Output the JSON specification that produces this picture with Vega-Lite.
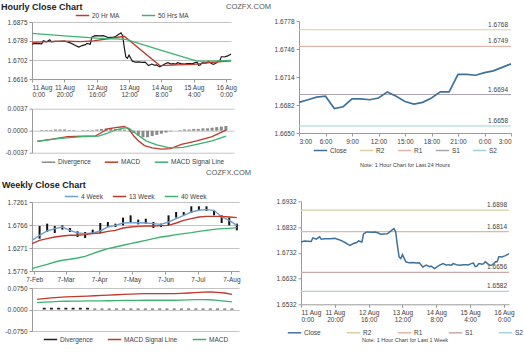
{
  "$schema": "https://vega.github.io/schema/vega-lite/v6.json",
  "autosize": {"type": "pad"},
  "padding": {"left": 1, "top": 2, "right": 0, "bottom": 0},
  "background": "white",
  "spacing": -35,
  "resolve": {"scale": {"color": "independent"}, "legend": {"color": "independent"}},
  "config": {
    "font": "Liberation Sans",
    "locale": {"number": {"decimal": ".", "thousands": ",", "grouping": [3], "currency": ["$", ""], "minus": "-"}},
    "view": {"stroke": null},
    "axis": {"labelFontSize": 6.5, "labelColor": "#404040", "domainColor": "#9a9a9a", "tickColor": "#9a9a9a", "tickSize": 3, "gridColor": "#c4c4c4", "grid": false, "labelPadding": 2, "labelOverlap": false},
    "legend": {"symbolType": "stroke", "symbolStrokeWidth": 1.5, "symbolSize": 180, "labelFontSize": 6.5, "labelColor": "#404040", "direction": "horizontal", "orient": "bottom", "padding": 0, "offset": 3, "columnPadding": 12, "labelOffset": 2, "rowPadding": 0, "layout": {"top": {"anchor": "middle"}, "bottom": {"anchor": "middle"}}},
    "title": {"font": "Liberation Sans", "color": "#222222", "frame": "group"}
  },
  "datasets": {
    "hourly": [
      {"h":0,"close":1.6774},{"h":2,"close":1.6778},{"h":4,"close":1.6777},{"h":6,"close":1.6776},{"h":7,"close":1.679},{"h":9,"close":1.6785},{"h":11,"close":1.6794},{"h":12,"close":1.6785},{"h":14,"close":1.6787},{"h":17,"close":1.6787},{"h":20,"close":1.6788},{"h":22,"close":1.6784},{"h":24,"close":1.6779},{"h":26,"close":1.6772},{"h":28,"close":1.6764},{"h":29,"close":1.6761},{"h":31,"close":1.6768},{"h":33,"close":1.6772},{"h":34,"close":1.6778},{"h":36,"close":1.6774},{"h":37,"close":1.6806},{"h":39,"close":1.6813},{"h":42,"close":1.6812},{"h":44,"close":1.6813},{"h":46,"close":1.6808},{"h":47,"close":1.6804},{"h":49,"close":1.6805},{"h":51,"close":1.6806},{"h":53,"close":1.6816},{"h":55,"close":1.6826},{"h":56,"close":1.6813},{"h":57,"close":1.6761},{"h":58,"close":1.6716},{"h":59,"close":1.671},{"h":60,"close":1.6725},{"h":62,"close":1.6697},{"h":64,"close":1.6693},{"h":66,"close":1.6694},{"h":68,"close":1.6692},{"h":70,"close":1.6693},{"h":72,"close":1.6677},{"h":74,"close":1.6684},{"h":76,"close":1.6678},{"h":77,"close":1.668},{"h":79,"close":1.6671},{"h":81,"close":1.668},{"h":82,"close":1.6684},{"h":84,"close":1.669},{"h":86,"close":1.6684},{"h":87,"close":1.6686},{"h":89,"close":1.6684},{"h":90,"close":1.669},{"h":92,"close":1.6686},{"h":94,"close":1.6684},{"h":96,"close":1.6686},{"h":98,"close":1.6686},
      {"h":99,"close":1.6685},{"h":100,"close":1.6688},{"h":101,"close":1.6691},{"h":102,"close":1.6692},{"h":103,"close":1.6678},{"h":104,"close":1.668},{"h":105,"close":1.6689},{"h":106,"close":1.6689},{"h":107,"close":1.6688},{"h":108,"close":1.669},{"h":109,"close":1.6697},{"h":110,"close":1.6692},{"h":111,"close":1.6686},{"h":112,"close":1.6683},{"h":113,"close":1.6685},{"h":114,"close":1.669},{"h":115,"close":1.6697},{"h":116,"close":1.6697},{"h":117,"close":1.6717},{"h":118,"close":1.6717},{"h":119,"close":1.6716},{"h":120,"close":1.6719},{"h":121,"close":1.6721},{"h":122,"close":1.6725},{"h":123,"close":1.6729}
    ],
    "ma": [
      {"h":0,"s":"20 Hr MA","v":1.6782},{"h":10,"s":"20 Hr MA","v":1.6786},{"h":20,"s":"20 Hr MA","v":1.6788},{"h":30,"s":"20 Hr MA","v":1.6786},{"h":38,"s":"20 Hr MA","v":1.6789},{"h":48,"s":"20 Hr MA","v":1.68},{"h":57,"s":"20 Hr MA","v":1.681},{"h":79,"s":"20 Hr MA","v":1.6677},{"h":90,"s":"20 Hr MA","v":1.668},{"h":100,"s":"20 Hr MA","v":1.6682},{"h":110,"s":"20 Hr MA","v":1.669},{"h":123,"s":"20 Hr MA","v":1.6699},
      {"h":0,"s":"50 Hrs MA","v":1.6823},{"h":20,"s":"50 Hrs MA","v":1.6812},{"h":40,"s":"50 Hrs MA","v":1.6802},{"h":58,"s":"50 Hrs MA","v":1.6796},{"h":80,"s":"50 Hrs MA","v":1.6746},{"h":102,"s":"50 Hrs MA","v":1.6697},{"h":112,"s":"50 Hrs MA","v":1.6697},{"h":123,"s":"50 Hrs MA","v":1.67}
    ],
    "hmacd": [
      {"h":0,"s":"MACD","v":-0.0018},{"h":10,"s":"MACD","v":-0.0014},{"h":20,"s":"MACD","v":-0.001},{"h":30,"s":"MACD","v":-0.0009},{"h":38,"s":"MACD","v":-0.0009},{"h":42,"s":"MACD","v":-0.0003},{"h":46,"s":"MACD","v":0.0003},{"h":51,"s":"MACD","v":0.0005},{"h":57,"s":"MACD","v":0.0007},{"h":60,"s":"MACD","v":0.0002},{"h":63,"s":"MACD","v":-0.0009},{"h":66,"s":"MACD","v":-0.0017},{"h":70,"s":"MACD","v":-0.0025},{"h":75,"s":"MACD","v":-0.0029},{"h":81,"s":"MACD","v":-0.0031},{"h":87,"s":"MACD","v":-0.003},{"h":94,"s":"MACD","v":-0.0023},{"h":104,"s":"MACD","v":-0.0017},{"h":114,"s":"MACD","v":-0.001},{"h":123,"s":"MACD","v":0.0001},
      {"h":0,"s":"MACD Signal Line","v":-0.0018},{"h":15,"s":"MACD Signal Line","v":-0.0013},{"h":30,"s":"MACD Signal Line","v":-0.001},{"h":40,"s":"MACD Signal Line","v":-0.0009},{"h":46,"s":"MACD Signal Line","v":-0.0004},{"h":52,"s":"MACD Signal Line","v":0.0002},{"h":58,"s":"MACD Signal Line","v":0.0005},{"h":60,"s":"MACD Signal Line","v":0.0004},{"h":65,"s":"MACD Signal Line","v":-0.0006},{"h":71,"s":"MACD Signal Line","v":-0.0017},{"h":78,"s":"MACD Signal Line","v":-0.0024},{"h":85,"s":"MACD Signal Line","v":-0.0028},{"h":90,"s":"MACD Signal Line","v":-0.0029},{"h":95,"s":"MACD Signal Line","v":-0.0028},{"h":104,"s":"MACD Signal Line","v":-0.0023},{"h":114,"s":"MACD Signal Line","v":-0.0017},{"h":123,"s":"MACD Signal Line","v":-0.0009}
    ],
    "hdiv": [
      {"h":0,"v":0},{"h":3,"v":0.0001},{"h":6,"v":0.0001},{"h":9,"v":0.0001},{"h":12,"v":0.0002},{"h":15,"v":0.0002},{"h":18,"v":0.0002},{"h":21,"v":0.0001},{"h":24,"v":0.0001},{"h":27,"v":0},{"h":30,"v":0.0001},{"h":33,"v":0.0001},{"h":36,"v":0.0001},{"h":39,"v":0.0002},{"h":42,"v":0.0003},{"h":45,"v":0.0004},{"h":48,"v":0.0004},{"h":51,"v":0.0003},{"h":54,"v":0.0003},{"h":57,"v":0.0002},{"h":60,"v":-0.0001},{"h":63,"v":-0.0004},{"h":66,"v":-0.0008},{"h":69,"v":-0.0011},{"h":72,"v":-0.0011},{"h":75,"v":-0.0009},{"h":78,"v":-0.0007},{"h":81,"v":-0.0005},{"h":84,"v":-0.0003},{"h":87,"v":-0.0001},{"h":90,"v":0},{"h":93,"v":0.0001},{"h":96,"v":0.0002},{"h":99,"v":0.0002},{"h":102,"v":0.0003},{"h":105,"v":0.0003},{"h":108,"v":0.0004},{"h":111,"v":0.0004},{"h":114,"v":0.0005},{"h":117,"v":0.0006},{"h":120,"v":0.0007},{"h":123,"v":0.0008}
    ],
    "wlines": [
      {"d":"2012-02-05","s":"4 Week","v":1.6436},{"d":"2012-02-12","s":"4 Week","v":1.6544},{"d":"2012-02-19","s":"4 Week","v":1.6637},{"d":"2012-02-26","s":"4 Week","v":1.6687},{"d":"2012-03-04","s":"4 Week","v":1.6723},{"d":"2012-03-11","s":"4 Week","v":1.6651},{"d":"2012-03-18","s":"4 Week","v":1.6594},{"d":"2012-03-25","s":"4 Week","v":1.658},{"d":"2012-04-01","s":"4 Week","v":1.6594},{"d":"2012-04-08","s":"4 Week","v":1.6637},{"d":"2012-04-15","s":"4 Week","v":1.6723},{"d":"2012-04-22","s":"4 Week","v":1.6759},{"d":"2012-04-29","s":"4 Week","v":1.6809},{"d":"2012-05-06","s":"4 Week","v":1.6816},{"d":"2012-05-13","s":"4 Week","v":1.6816},{"d":"2012-05-20","s":"4 Week","v":1.6809},{"d":"2012-05-27","s":"4 Week","v":1.6795},{"d":"2012-06-03","s":"4 Week","v":1.678},{"d":"2012-06-10","s":"4 Week","v":1.6831},{"d":"2012-06-17","s":"4 Week","v":1.6902},{"d":"2012-06-24","s":"4 Week","v":1.6974},{"d":"2012-07-01","s":"4 Week","v":1.7046},{"d":"2012-07-08","s":"4 Week","v":1.7082},{"d":"2012-07-15","s":"4 Week","v":1.7096},{"d":"2012-07-22","s":"4 Week","v":1.7082},{"d":"2012-07-29","s":"4 Week","v":1.6938},{"d":"2012-08-05","s":"4 Week","v":1.6866},{"d":"2012-08-12","s":"4 Week","v":1.6759},
      {"d":"2012-02-05","s":"13 Week","v":1.6365},{"d":"2012-02-12","s":"13 Week","v":1.6436},{"d":"2012-02-19","s":"13 Week","v":1.6472},{"d":"2012-02-26","s":"13 Week","v":1.6508},{"d":"2012-03-04","s":"13 Week","v":1.6529},{"d":"2012-03-11","s":"13 Week","v":1.6544},{"d":"2012-03-18","s":"13 Week","v":1.6544},{"d":"2012-03-25","s":"13 Week","v":1.6558},{"d":"2012-04-01","s":"13 Week","v":1.658},{"d":"2012-04-08","s":"13 Week","v":1.6594},{"d":"2012-04-15","s":"13 Week","v":1.663},{"d":"2012-04-22","s":"13 Week","v":1.6651},{"d":"2012-04-29","s":"13 Week","v":1.6702},{"d":"2012-05-06","s":"13 Week","v":1.6723},{"d":"2012-05-13","s":"13 Week","v":1.6737},{"d":"2012-05-20","s":"13 Week","v":1.6745},{"d":"2012-05-27","s":"13 Week","v":1.6745},{"d":"2012-06-03","s":"13 Week","v":1.6752},{"d":"2012-06-10","s":"13 Week","v":1.6759},{"d":"2012-06-17","s":"13 Week","v":1.6809},{"d":"2012-06-24","s":"13 Week","v":1.6866},{"d":"2012-07-01","s":"13 Week","v":1.6902},{"d":"2012-07-08","s":"13 Week","v":1.6938},{"d":"2012-07-15","s":"13 Week","v":1.6952},{"d":"2012-07-22","s":"13 Week","v":1.6952},{"d":"2012-07-29","s":"13 Week","v":1.6952},{"d":"2012-08-05","s":"13 Week","v":1.6938},{"d":"2012-08-12","s":"13 Week","v":1.6924},
      {"d":"2012-02-05","s":"40 Week","v":1.5827},{"d":"2012-02-12","s":"40 Week","v":1.5877},{"d":"2012-02-19","s":"40 Week","v":1.592},{"d":"2012-02-26","s":"40 Week","v":1.597},{"d":"2012-03-04","s":"40 Week","v":1.6006},{"d":"2012-03-11","s":"40 Week","v":1.6028},{"d":"2012-03-18","s":"40 Week","v":1.6056},{"d":"2012-03-25","s":"40 Week","v":1.6092},{"d":"2012-04-01","s":"40 Week","v":1.6149},{"d":"2012-04-08","s":"40 Week","v":1.6207},{"d":"2012-04-15","s":"40 Week","v":1.6257},{"d":"2012-04-22","s":"40 Week","v":1.6293},{"d":"2012-04-29","s":"40 Week","v":1.6329},{"d":"2012-05-06","s":"40 Week","v":1.6365},{"d":"2012-05-13","s":"40 Week","v":1.64},{"d":"2012-05-20","s":"40 Week","v":1.6436},{"d":"2012-05-27","s":"40 Week","v":1.6472},{"d":"2012-06-03","s":"40 Week","v":1.6508},{"d":"2012-06-10","s":"40 Week","v":1.6529},{"d":"2012-06-17","s":"40 Week","v":1.6558},{"d":"2012-06-24","s":"40 Week","v":1.658},{"d":"2012-07-01","s":"40 Week","v":1.6601},{"d":"2012-07-08","s":"40 Week","v":1.663},{"d":"2012-07-15","s":"40 Week","v":1.6651},{"d":"2012-07-22","s":"40 Week","v":1.6673},{"d":"2012-07-29","s":"40 Week","v":1.6687},{"d":"2012-08-05","s":"40 Week","v":1.6694},{"d":"2012-08-12","s":"40 Week","v":1.6709}
    ],
    "wbars": [
      {"d":"2012-02-12","hi":1.6745,"lo":1.6472},{"d":"2012-02-19","hi":1.6795,"lo":1.6616},{"d":"2012-02-26","hi":1.6745,"lo":1.6594},{"d":"2012-03-04","hi":1.6759,"lo":1.6666},{"d":"2012-03-11","hi":1.6702,"lo":1.6616},{"d":"2012-03-18","hi":1.663,"lo":1.6508},{"d":"2012-03-25","hi":1.6616,"lo":1.6486},{"d":"2012-04-01","hi":1.6666,"lo":1.658},{"d":"2012-04-08","hi":1.6809,"lo":1.6594},{"d":"2012-04-15","hi":1.6831,"lo":1.6723},{"d":"2012-04-22","hi":1.6795,"lo":1.6723},{"d":"2012-04-29","hi":1.6924,"lo":1.6759},{"d":"2012-05-06","hi":1.6974,"lo":1.6809},{"d":"2012-05-13","hi":1.6881,"lo":1.678},{"d":"2012-05-20","hi":1.6902,"lo":1.6795},{"d":"2012-05-27","hi":1.6831,"lo":1.6702},{"d":"2012-06-03","hi":1.6795,"lo":1.6723},{"d":"2012-06-10","hi":1.6974,"lo":1.6759},{"d":"2012-06-17","hi":1.7046,"lo":1.6924},{"d":"2012-06-24","hi":1.7046,"lo":1.6974},{"d":"2012-07-01","hi":1.7168,"lo":1.7024},{"d":"2012-07-08","hi":1.7168,"lo":1.7082},{"d":"2012-07-15","hi":1.7168,"lo":1.7067},{"d":"2012-07-22","hi":1.7082,"lo":1.6974},{"d":"2012-07-29","hi":1.6974,"lo":1.6809},{"d":"2012-08-05","hi":1.6924,"lo":1.6759},{"d":"2012-08-12","hi":1.6795,"lo":1.6651}
    ],
    "wmacd": [
      {"d":"2012-02-05","s":"MACD Signal Line","v":0.0356},{"d":"2012-02-12","s":"MACD Signal Line","v":0.038},{"d":"2012-02-19","s":"MACD Signal Line","v":0.0405},{"d":"2012-02-26","s":"MACD Signal Line","v":0.0425},{"d":"2012-03-04","s":"MACD Signal Line","v":0.044},{"d":"2012-03-11","s":"MACD Signal Line","v":0.045},{"d":"2012-03-18","s":"MACD Signal Line","v":0.046},{"d":"2012-03-25","s":"MACD Signal Line","v":0.047},{"d":"2012-04-01","s":"MACD Signal Line","v":0.048},{"d":"2012-04-08","s":"MACD Signal Line","v":0.049},{"d":"2012-04-15","s":"MACD Signal Line","v":0.05},{"d":"2012-04-22","s":"MACD Signal Line","v":0.0515},{"d":"2012-04-29","s":"MACD Signal Line","v":0.0525},{"d":"2012-05-06","s":"MACD Signal Line","v":0.0535},{"d":"2012-05-13","s":"MACD Signal Line","v":0.0545},{"d":"2012-05-20","s":"MACD Signal Line","v":0.0553},{"d":"2012-05-27","s":"MACD Signal Line","v":0.0553},{"d":"2012-06-03","s":"MACD Signal Line","v":0.0555},{"d":"2012-06-10","s":"MACD Signal Line","v":0.0555},{"d":"2012-06-17","s":"MACD Signal Line","v":0.0555},{"d":"2012-06-24","s":"MACD Signal Line","v":0.0565},{"d":"2012-07-01","s":"MACD Signal Line","v":0.0575},{"d":"2012-07-08","s":"MACD Signal Line","v":0.059},{"d":"2012-07-15","s":"MACD Signal Line","v":0.0605},{"d":"2012-07-22","s":"MACD Signal Line","v":0.0611},{"d":"2012-07-29","s":"MACD Signal Line","v":0.06},{"d":"2012-08-05","s":"MACD Signal Line","v":0.0575},{"d":"2012-08-12","s":"MACD Signal Line","v":0.053},
      {"d":"2012-02-05","s":"MACD","v":0.0242},{"d":"2012-02-12","s":"MACD","v":0.0255},{"d":"2012-02-19","s":"MACD","v":0.0268},{"d":"2012-02-26","s":"MACD","v":0.028},{"d":"2012-03-04","s":"MACD","v":0.0288},{"d":"2012-03-11","s":"MACD","v":0.0292},{"d":"2012-03-18","s":"MACD","v":0.0295},{"d":"2012-03-25","s":"MACD","v":0.0298},{"d":"2012-04-01","s":"MACD","v":0.03},{"d":"2012-04-08","s":"MACD","v":0.0302},{"d":"2012-04-15","s":"MACD","v":0.0305},{"d":"2012-04-22","s":"MACD","v":0.031},{"d":"2012-04-29","s":"MACD","v":0.0315},{"d":"2012-05-06","s":"MACD","v":0.0318},{"d":"2012-05-13","s":"MACD","v":0.032},{"d":"2012-05-20","s":"MACD","v":0.0323},{"d":"2012-05-27","s":"MACD","v":0.0323},{"d":"2012-06-03","s":"MACD","v":0.0323},{"d":"2012-06-10","s":"MACD","v":0.0323},{"d":"2012-06-17","s":"MACD","v":0.0323},{"d":"2012-06-24","s":"MACD","v":0.0328},{"d":"2012-07-01","s":"MACD","v":0.0335},{"d":"2012-07-08","s":"MACD","v":0.0342},{"d":"2012-07-15","s":"MACD","v":0.0346},{"d":"2012-07-22","s":"MACD","v":0.034},{"d":"2012-07-29","s":"MACD","v":0.0318},{"d":"2012-08-05","s":"MACD","v":0.029},{"d":"2012-08-12","s":"MACD","v":0.0265}
    ],
    "wdiv": [
      {"d":"2012-02-12","v":0.006},{"d":"2012-02-19","v":0.006},{"d":"2012-02-26","v":0.006},{"d":"2012-03-04","v":0.006},{"d":"2012-03-11","v":0.006},{"d":"2012-03-18","v":0.006},{"d":"2012-03-25","v":0.006},{"d":"2012-04-01","v":0.003},{"d":"2012-04-08","v":0.003},{"d":"2012-04-15","v":0.003},{"d":"2012-04-22","v":0.003},{"d":"2012-04-29","v":0.003},{"d":"2012-05-06","v":0.003},{"d":"2012-05-13","v":0.003},{"d":"2012-05-20","v":0.003},{"d":"2012-05-27","v":0.003},{"d":"2012-06-03","v":0.003},{"d":"2012-06-10","v":0.003},{"d":"2012-06-17","v":0.003},{"d":"2012-06-24","v":0.003},{"d":"2012-07-01","v":0.003},{"d":"2012-07-08","v":0.003},{"d":"2012-07-15","v":0.003},{"d":"2012-07-22","v":0.003},{"d":"2012-07-29","v":0.003},{"d":"2012-08-05","v":0.003},{"d":"2012-08-12","v":0.003}
    ],
    "lev24": [
      {"s":"R2","v":1.6768},{"s":"R1","v":1.6749},{"s":"S1","v":1.6694},{"s":"S2","v":1.6658}
    ],
    "lev1w": [
      {"s":"R2","v":1.6898},{"s":"R1","v":1.6814},{"s":"S1","v":1.6656},{"s":"S2","v":1.6582}
    ]
  },
  "hconcat": [
    {
      "spacing": -20,
      "resolve": {"scale": {"color": "independent"}, "legend": {"color": "independent"}},
      "vconcat": [
        {"width": 1, "height": 1, "data": {"values": []}, "mark": "point"},
        {
          "spacing": 14,
          "resolve": {"scale": {"color": "independent"}, "legend": {"color": "independent"}},
          "vconcat": [
            {
              "bounds": "flush",
              "spacing": 29.7,
              "resolve": {"scale": {"color": "independent"}, "legend": {"color": "independent"}},
              "vconcat": [
                {
                  "width": 199,
                  "height": 57,
                  "title": {"text": "Hourly Close Chart", "anchor": "start", "fontSize": 9, "fontWeight": "bold", "dx": -31, "offset": -4},
                  "layer": [
                    {
                      "data": {"name": "hourly"},
                      "mark": {"type": "line", "color": "#1a1a1a", "strokeWidth": 1.2},
                      "encoding": {
                        "x": {"field": "h", "type": "quantitative", "scale": {"domain": [0, 123], "nice": false, "zero": false},
                          "axis": {"title": null, "tickCount": 50, "labelOverlap": false, "labelLineHeight": 7.5, "values": [0, 20, 40, 60, 80, 100, 120], "labelExpr": "[['11 Aug','11 Aug','12 Aug','13 Aug','14 Aug','15 Aug','16 Aug'][datum.value/20], ['0:00','20:00','16:00','12:00','8:00','4:00','0:00'][datum.value/20]]"}},
                        "y": {"field": "close", "type": "quantitative", "scale": {"domain": [1.6616, 1.6875], "nice": false, "zero": false},
                          "axis": {"title": null, "grid": true, "tickCount": 50, "labelOverlap": false, "values": [1.6616, 1.67023, 1.67887, 1.6875], "format": ".4f"}}
                      }
                    },
                    {
                      "data": {"name": "ma"},
                      "mark": {"type": "line", "strokeWidth": 1.3},
                      "encoding": {
                        "x": {"field": "h", "type": "quantitative"},
                        "y": {"field": "v", "type": "quantitative"},
                        "color": {"field": "s", "type": "nominal", "title": null, "scale": {"domain": ["20 Hr MA", "50 Hrs MA"], "range": ["#c0392b", "#3cb371"]},
                          "legend": {"orient": "top", "title": null, "offset": 3, "columnPadding": 18}}
                      }
                    }
                  ]
                },
                {
                  "width": 202,
                  "height": 44,
                  "layer": [
                    {
                      "data": {"name": "hdiv"},
                      "mark": {"type": "bar", "width": 3},
                      "encoding": {
                        "x": {"field": "h", "type": "quantitative", "scale": {"domain": [0, 125], "nice": false, "zero": false}, "axis": null},
                        "y": {"field": "v", "type": "quantitative", "scale": {"domain": [-0.0037, 0.0037], "nice": false},
                          "axis": {"title": null, "grid": true, "tickCount": 50, "labelOverlap": false, "values": [-0.0037, 0, 0.0037], "format": ".4f"}},
                        "color": {"datum": "Divergence", "type": "nominal", "title": null, "scale": {"domain": ["Divergence", "MACD", "MACD Signal Line"], "range": ["#8a8a8a", "#c0392b", "#3cb371"]},
                          "legend": {"title": null, "orient": "bottom", "offset": 2, "columnPadding": 10}}
                      }
                    },
                    {
                      "data": {"name": "hmacd"},
                      "mark": {"type": "line", "strokeWidth": 1.3},
                      "encoding": {
                        "x": {"field": "h", "type": "quantitative"},
                        "y": {"field": "v", "type": "quantitative"},
                        "color": {"field": "s", "type": "nominal", "title": null}
                      }
                    }
                  ]
                }
              ]
            },
            {
              "bounds": "flush",
              "spacing": 17,
              "resolve": {"scale": {"color": "independent"}, "legend": {"color": "independent"}},
              "vconcat": [
                {
                  "width": 207,
                  "height": 69,
                  "title": {"text": "Weekly Close Chart", "anchor": "start", "fontSize": 9, "fontWeight": "bold", "dx": -30, "offset": -0.5},
                  "layer": [
                    {
                      "data": {"name": "wbars"},
                      "mark": {"type": "rule", "color": "#111111", "strokeWidth": 2},
                      "encoding": {
                        "x": {"field": "d", "type": "temporal", "scale": {"type": "utc", "domain": [{"year": 2012, "month": 2, "date": 5, "utc": true}, {"year": 2012, "month": 8, "date": 14, "utc": true}]},
                          "axis": {"title": null, "tickCount": 50, "labelOverlap": false, "format": "%-d-%b", "values": [{"year": 2012, "month": 2, "date": 7, "utc": true}, {"year": 2012, "month": 3, "date": 7, "utc": true}, {"year": 2012, "month": 4, "date": 7, "utc": true}, {"year": 2012, "month": 5, "date": 7, "utc": true}, {"year": 2012, "month": 6, "date": 7, "utc": true}, {"year": 2012, "month": 7, "date": 7, "utc": true}, {"year": 2012, "month": 8, "date": 7, "utc": true}]}},
                        "y": {"field": "hi", "type": "quantitative", "scale": {"domain": [1.5776, 1.7261], "nice": false, "zero": false},
                          "axis": {"title": null, "grid": true, "tickCount": 50, "labelOverlap": false, "values": [1.5776, 1.6271, 1.6766, 1.7261], "format": ".4f"}},
                        "y2": {"field": "lo"}
                      }
                    },
                    {
                      "data": {"name": "wlines"},
                      "mark": {"type": "line", "strokeWidth": 1.4},
                      "encoding": {
                        "x": {"field": "d", "type": "temporal"},
                        "y": {"field": "v", "type": "quantitative"},
                        "color": {"field": "s", "type": "nominal", "title": null, "scale": {"domain": ["4 Week", "13 Week", "40 Week"], "range": ["#6f9fd0", "#c0392b", "#3cb371"]},
                          "legend": {"orient": "top", "title": null, "offset": 2, "columnPadding": 6}}
                      }
                    }
                  ]
                },
                {
                  "width": 207,
                  "height": 43,
                  "layer": [
                    {
                      "data": {"name": "wdiv"},
                      "mark": {"type": "bar", "width": 3},
                      "encoding": {
                        "x": {"field": "d", "type": "temporal", "scale": {"type": "utc", "domain": [{"year": 2012, "month": 2, "date": 5, "utc": true}, {"year": 2012, "month": 8, "date": 14, "utc": true}]}, "axis": null},
                        "y": {"field": "v", "type": "quantitative", "scale": {"domain": [-0.075, 0.075], "nice": false},
                          "axis": {"title": null, "grid": true, "tickCount": 50, "labelOverlap": false, "values": [-0.075, 0, 0.075], "format": ".4f"}},
                        "color": {"datum": "Divergence", "type": "nominal", "title": null, "scale": {"domain": ["Divergence", "MACD Signal Line", "MACD"], "range": ["#222222", "#c0392b", "#3cb371"]},
                          "legend": {"title": null, "orient": "bottom", "offset": 0.5, "columnPadding": 11}}
                      }
                    },
                    {
                      "data": {"name": "wmacd"},
                      "mark": {"type": "line", "strokeWidth": 1.3},
                      "encoding": {
                        "x": {"field": "d", "type": "temporal"},
                        "y": {"field": "v", "type": "quantitative"},
                        "color": {"field": "s", "type": "nominal", "title": null}
                      }
                    }
                  ]
                }
              ]
            }
          ]
        }
      ]
    },
    {
      "bounds": "flush",
      "spacing": 68.3,
      "center": true,
      "resolve": {"scale": {"color": "independent"}, "legend": {"color": "independent"}},
      "vconcat": [
        {
          "width": 212,
          "height": 112,
          "title": {"text": "COZFX.COM", "anchor": "start", "fontSize": 7.5, "fontWeight": "normal", "color": "#555555", "dx": -73, "offset": 8},
          "layer": [
            {
              "data": {"name": "lev24"},
              "mark": {"type": "rule", "strokeWidth": 1.2},
              "encoding": {
                "y": {"field": "v", "type": "quantitative", "scale": {"domain": [1.665, 1.6778], "nice": false, "zero": false},
                  "axis": {"title": null, "tickCount": 50, "labelOverlap": false, "values": [1.665, 1.6682, 1.6714, 1.6746, 1.6778], "format": ".4f"}},
                "color": {"field": "s", "type": "nominal", "scale": {"domain": ["Close", "R2", "R1", "S1", "S2"], "range": ["#3f729b", "#d8d0a0", "#e3b5a8", "#aca4b0", "#9fd3d6"]},
                  "legend": {"title": "Note: 1 Hour Chart for Last 24 Hours", "titleOrient": "bottom", "titleAnchor": "middle", "titleFontSize": 5.5, "titleFontWeight": "normal", "titleColor": "#404040", "titlePadding": 9, "orient": "bottom", "offset": -2, "columnPadding": 9}}
              }
            },
            {
              "data": {"name": "lev24"},
              "mark": {"type": "text", "align": "right", "baseline": "bottom", "dx": -3, "dy": -2, "fontSize": 6.5, "color": "#404040"},
              "encoding": {
                "x": {"datum": 123, "type": "quantitative"},
                "y": {"field": "v", "type": "quantitative"},
                "text": {"field": "v", "type": "quantitative", "format": ".4f"}
              }
            },
            {
              "data": {"name": "hourly"},
              "transform": [{"filter": "datum.h >= 99"}],
              "mark": {"type": "line", "strokeWidth": 1.7},
              "encoding": {
                "x": {"field": "h", "type": "quantitative", "scale": {"domain": [99, 123], "nice": false, "zero": false},
                  "axis": {"title": null, "tickCount": 50, "labelOverlap": false, "values": [99, 102, 105, 108, 111, 114, 117, 120, 123], "labelExpr": "(datum.value % 24) + ':00'"}},
                "y": {"field": "close", "type": "quantitative"},
                "color": {"datum": "Close", "type": "nominal"}
              }
            }
          ]
        },
        {
          "width": 208,
          "height": 103,
          "title": {"text": "COZFX.COM", "anchor": "start", "fontSize": 7.5, "fontWeight": "normal", "color": "#555555", "dx": -95, "offset": 22},
          "layer": [
            {
              "data": {"name": "lev1w"},
              "mark": {"type": "rule", "strokeWidth": 1.2},
              "encoding": {
                "y": {"field": "v", "type": "quantitative", "scale": {"domain": [1.6532, 1.6932], "nice": false, "zero": false},
                  "axis": {"title": null, "tickCount": 50, "labelOverlap": false, "values": [1.6532, 1.6632, 1.6732, 1.6832, 1.6932], "format": ".4f"}},
                "color": {"field": "s", "type": "nominal", "scale": {"domain": ["Close", "R2", "R1", "S1", "S2"], "range": ["#3f729b", "#d8d0a0", "#e3b5a8", "#c9aaaa", "#a9d2e6"]},
                  "legend": {"title": "Note: 1 Hour Chart for Last 1 Week", "titleOrient": "bottom", "titleAnchor": "middle", "titleFontSize": 5.5, "titleFontWeight": "normal", "titleColor": "#404040", "titlePadding": 2, "orient": "bottom", "offset": 2, "columnPadding": 22}}
              }
            },
            {
              "data": {"name": "lev1w"},
              "mark": {"type": "text", "align": "right", "baseline": "bottom", "dx": -2, "dy": -2, "fontSize": 6.5, "color": "#404040"},
              "encoding": {
                "x": {"datum": 123, "type": "quantitative"},
                "y": {"field": "v", "type": "quantitative"},
                "text": {"field": "v", "type": "quantitative", "format": ".4f"}
              }
            },
            {
              "data": {"name": "hourly"},
              "mark": {"type": "line", "strokeWidth": 1.5},
              "encoding": {
                "x": {"field": "h", "type": "quantitative", "scale": {"domain": [0, 123], "nice": false, "zero": false},
                  "axis": {"title": null, "tickCount": 50, "labelOverlap": false, "labelLineHeight": 7.5, "values": [0, 20, 40, 60, 80, 100, 120], "labelExpr": "[['11 Aug','11 Aug','12 Aug','13 Aug','14 Aug','15 Aug','16 Aug'][datum.value/20], ['0:00','20:00','16:00','12:00','8:00','4:00','0:00'][datum.value/20]]"}},
                "y": {"field": "close", "type": "quantitative"},
                "color": {"datum": "Close", "type": "nominal"}
              }
            }
          ]
        }
      ]
    }
  ]
}
